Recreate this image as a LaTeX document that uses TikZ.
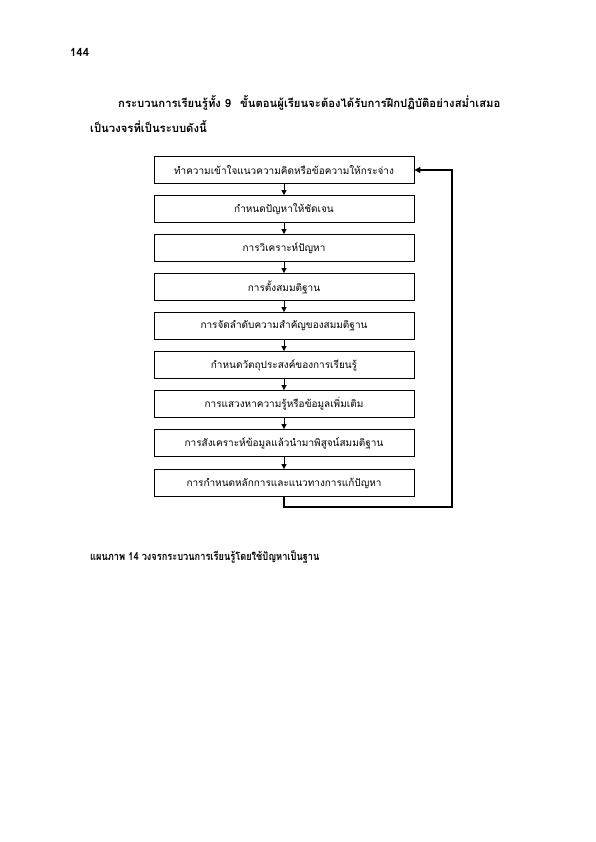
\documentclass[tikz,border=0pt]{standalone}
\usepackage{fontspec}
\setmainfont[Script=Thai]{Loma}
\newfontfamily\capfont[Script=Thai,FakeStretch=0.84]{Loma}
\usepackage{tikz}
\usetikzlibrary{arrows.meta,positioning}
\tikzset{
  stepbox/.style={rectangle, draw=black, line width=0.8pt, fill=white,
                  minimum width=260pt, minimum height=27pt, inner sep=0pt,
                  font=\fontsize{10}{12}\selectfont},
  flow/.style ={-{Triangle[length=5pt,width=5pt]}, line width=0.8pt, black},
  fback/.style={-{Triangle[length=6pt,width=6pt]}, line width=1.3pt, black},
  headtxt/.style={anchor=west, inner sep=0pt, font=\fontsize{11.3}{14}\selectfont\bfseries},
  captxt/.style={headtxt, font=\capfont\fontsize{11}{14}\selectfont\bfseries},
}
\begin{document}
\begin{tikzpicture}[x=1pt,y=-1pt]
\useasboundingbox (0,0) rectangle (595,842);
% page number and heading
\node[headtxt] (pnum) at (70,52) {144};
\node[headtxt] (head1) at (118,103) {กระบวนการเรียนรู้ทั้ง 9\hspace{9pt}ขั้นตอนผู้เรียนจะต้องได้รับการฝึกปฏิบัติอย่างสม่ำเสมอ};
\node[headtxt] (head2) at (90,127) {เป็นวงจรที่เป็นระบบดังนี้};
% steps
\node[stepbox] (s1) at (284,170) {ทำความเข้าใจแนวความคิดหรือข้อความให้กระจ่าง};
\node[stepbox] (s2) at (284,209) {กำหนดปัญหาให้ชัดเจน};
\node[stepbox] (s3) at (284,248) {การวิเคราะห์ปัญหา};
\node[stepbox] (s4) at (284,287) {การตั้งสมมติฐาน};
\node[stepbox] (s5) at (284,326) {การจัดลำดับความสำคัญของสมมติฐาน};
\node[stepbox] (s6) at (284,365) {กำหนดวัตถุประสงค์ของการเรียนรู้};
\node[stepbox] (s7) at (284,404) {การแสวงหาความรู้หรือข้อมูลเพิ่มเติม};
\node[stepbox] (s8) at (284,443) {การสังเคราะห์ข้อมูลแล้วนำมาพิสูจน์สมมติฐาน};
\node[stepbox] (s9) at (284,483) {การกำหนดหลักการและแนวทางการแก้ปัญหา};
\draw[flow] (s1) -- (s2);
\draw[flow] (s2) -- (s3);
\draw[flow] (s3) -- (s4);
\draw[flow] (s4) -- (s5);
\draw[flow] (s5) -- (s6);
\draw[flow] (s6) -- (s7);
\draw[flow] (s7) -- (s8);
\draw[flow] (s8) -- (s9);
% loop back
\coordinate (fbcorner) at (452,507);
\draw[fback] (s9.south) -- (s9.south |- fbcorner) -- (fbcorner) |- (s1.east);
% caption
\node[captxt] (cap) at (90,557) {แผนภาพ 14 วงจรกระบวนการเรียนรู้โดยใช้ปัญหาเป็นฐาน};
\end{tikzpicture}
\end{document}
